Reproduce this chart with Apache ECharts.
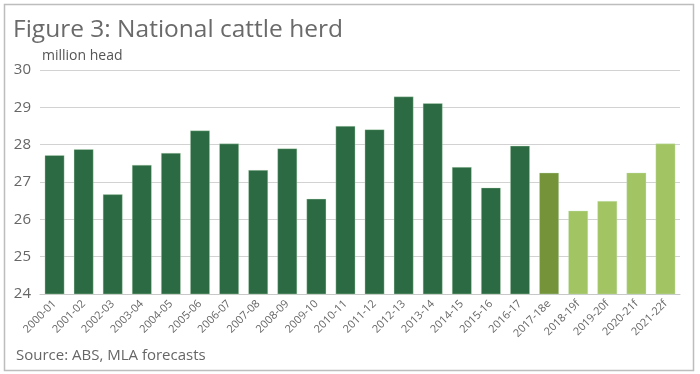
<!DOCTYPE html>
<html>
<head>
<meta charset="utf-8">
<script src="https://cdn.jsdelivr.net/npm/echarts@6/dist/echarts.min.js"></script>
<style>
html,body{margin:0;padding:0;background:#fff;}
#c{width:700px;height:374px;}
</style>
</head>
<body>
<div id="c"></div>
<script>
var categories = ['2000-01','2001-02','2002-03','2003-04','2004-05','2005-06','2006-07','2007-08','2008-09','2009-10','2010-11','2011-12','2012-13','2013-14','2014-15','2015-16','2016-17','2017-18e','2018-19f','2019-20f','2020-21f','2021-22f'];
var herdValues = [27.72,27.88,26.67,27.46,27.78,28.38,28.03,27.32,27.90,26.55,28.50,28.41,29.29,29.11,27.40,26.85,27.97,27.25,26.23,26.49,27.25,28.03];
var barKinds = ['a','a','a','a','a','a','a','a','a','a','a','a','a','a','a','a','a','e','f','f','f','f'];
var kindColors = {a:'#2b6a42', e:'#759339', f:'#a3c462'};
var yTicks = [24,25,26,27,28,29,30];

var chart = echarts.init(document.getElementById('c'), null, {renderer:'canvas'});
var font = '"Open Sans", sans-serif';
chart.setOption({
  animation:false,
  backgroundColor:'#fff',
  title:[{
    text:'Figure 3: National cattle herd',
    left:8, top:13,
    textStyle:{fontFamily:font, fontSize:24.5, fontWeight:'normal', color:'#6a6a6a'}
  },{
    text:'million head',
    left:37, top:44,
    textStyle:{fontFamily:font, fontSize:14, fontWeight:'normal', color:'#555'}
  },{
    text:'Source: ABS, MLA forecasts',
    left:11, top:343,
    textStyle:{fontFamily:font, fontSize:15, fontWeight:'normal', color:'#666'}
  }],
  graphic:[{
    type:'rect', shape:{x:4.5,y:4.5,width:689,height:366},
    style:{fill:'none', stroke:'#bdbdbd', lineWidth:1.5}, silent:true
  }],
  grid:{left:40, right:20, top:70, bottom:80},
  xAxis:{
    type:'category', data:categories,
    axisLine:{lineStyle:{color:'#c8c8c8'}},
    axisTick:{show:false},
    axisLabel:{rotate:45, interval:0, fontFamily:font, fontSize:11, color:'#666', margin:8}
  },
  yAxis:{
    type:'value', min:yTicks[0], max:yTicks[yTicks.length-1], interval:1,
    axisLine:{show:false}, axisTick:{show:false},
    splitLine:{lineStyle:{color:'#d2d2d2', width:1}},
    axisLabel:{fontFamily:font, fontSize:15, color:'#666', margin:9}
  },
  series:[{
    type:'bar',
    barWidth:'68%',
    data:herdValues.map(function(v,i){
      return {value:v, itemStyle:{color:kindColors[barKinds[i]], borderColor:'rgba(200,230,200,0.6)', borderWidth:0.6}};
    })
  }]
});
</script>
</body>
</html>
